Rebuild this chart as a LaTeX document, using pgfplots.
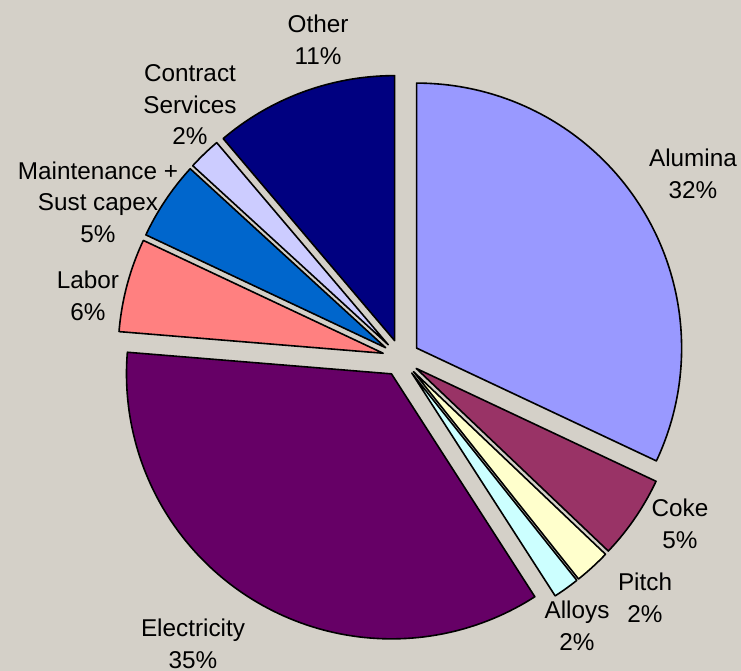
\documentclass[border=0pt]{standalone}
\usepackage{pgfplots}
\pgfplotsset{compat=1.18}
\usepackage{fontspec}
\setmainfont{Liberation Sans}
\definecolor{bgc}{RGB}{212,208,200}
\definecolor{calumina}{RGB}{153,153,255}
\definecolor{ccoke}{RGB}{153,51,102}
\definecolor{cpitch}{RGB}{255,255,204}
\definecolor{calloys}{RGB}{204,255,255}
\definecolor{celec}{RGB}{102,0,102}
\definecolor{clabor}{RGB}{255,128,128}
\definecolor{cmaint}{RGB}{0,102,204}
\definecolor{ccontract}{RGB}{204,204,255}
\definecolor{cother}{RGB}{0,0,128}
% slice: colour, cumulative percent at start, cumulative percent at end
\newcommand{\slice}[3]{%
  \pgfmathsetmacro{\aS}{90-3.6*#3}%
  \pgfmathsetmacro{\aE}{90-3.6*#2}%
  \pgfmathsetmacro{\aM}{90-1.8*(#2+#3)}%
  \pgfmathsetmacro{\ox}{401+18.5*cos(\aM)}%
  \pgfmathsetmacro{\oy}{358-18.5*sin(\aM)}%
  \edef\temp{\noexpand\addplot[fill=#1, draw=black, line width=0.8bp, line join=round, domain=\aS:\aE, samples=100, variable=\noexpand\t] ({\ox+265*cos(\noexpand\t)},{\oy-265*sin(\noexpand\t)}) -- (axis cs:\ox,\oy) -- cycle;}%
  \temp
}
\begin{document}
\begin{tikzpicture}
\begin{axis}[hide axis, scale only axis, width=370.5bp, height=335.5bp,
  xmin=0, xmax=741, ymin=0, ymax=671, y dir=reverse, clip=false]
\fill[bgc] (rel axis cs:0,0) rectangle (rel axis cs:1,1);
% shares (percent): Alumina 32.0, Coke 5.1, Pitch 2.2, Alloys 1.6, Electricity 35.4,
% Labor 5.7, Maintenance 4.8, Contract Services 2.0, Other 11.2
\slice{calumina}{0}{32.0}
\slice{ccoke}{32.0}{37.1}
\slice{cpitch}{37.1}{39.3}
\slice{calloys}{39.3}{40.9}
\slice{celec}{40.9}{76.3}
\slice{clabor}{76.3}{82.0}
\slice{cmaint}{82.0}{86.8}
\slice{ccontract}{86.8}{88.8}
\slice{cother}{88.8}{100}
\begin{scope}[every node/.style={align=center, font=\fontsize{12.15bp}{15.75bp}\selectfont, inner sep=0pt}]
\node at (axis cs:318,40) {Other\\11\%};
\node at (axis cs:190,105) {Contract\\Services\\2\%};
\node at (axis cs:98,202) {Maintenance +\\Sust capex\\5\%};
\node at (axis cs:88,296) {Labor\\6\%};
\node at (axis cs:193,644) {Electricity\\35\%};
\node at (axis cs:577,626) {Alloys\\2\%};
\node at (axis cs:645,598) {Pitch\\2\%};
\node at (axis cs:680,524) {Coke\\5\%};
\node at (axis cs:693,174) {Alumina\\32\%};
\end{scope}
\end{axis}
\pgfresetboundingbox
\path[use as bounding box] (current axis.south west) rectangle (current axis.north east);
\end{tikzpicture}
\end{document}
